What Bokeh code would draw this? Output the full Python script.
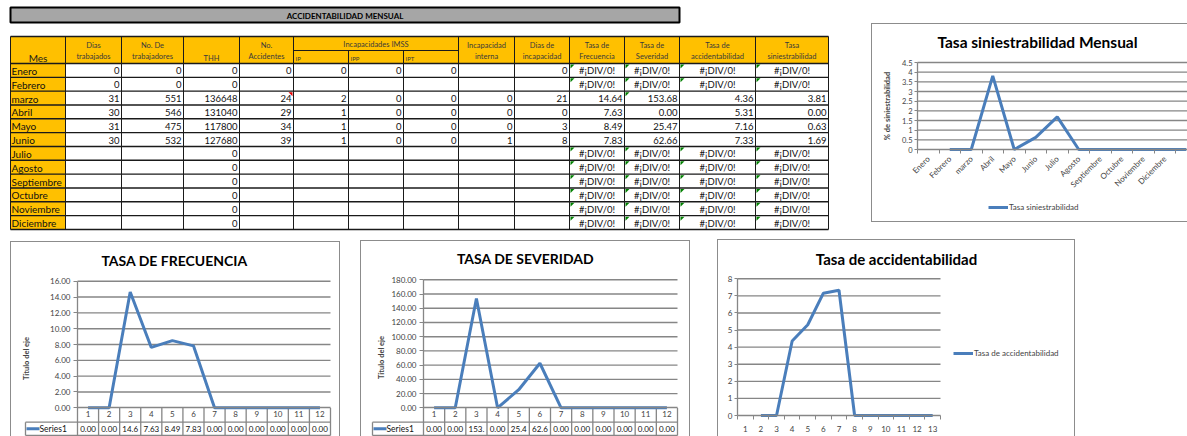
import math
from bokeh.plotting import figure
from bokeh.models import (Range1d, FixedTicker, PrintfTickFormatter, Legend, LegendItem,
                          InlineStyleSheet, LinearAxis)
from bokeh.layouts import row, column
from bokeh.core.properties import value
from bokeh.embed import file_html
from bokeh.resources import INLINE

FONT = "Lato"
BLUE = "#4a7ebb"
GRID = "#868686"
BORDER = "#8c8c8c"
HEAD = "#ffc000"

# ---------------- data (table) ----------------
months = ["Enero", "Febrero", "marzo", "Abril", "Mayo", "Junio", "Julio", "Agosto",
          "Septiembre", "Octubre", "Noviembre", "Diciembre"]
E = [None] * 6
dias_trabajados = [0, 0, 31, 30, 31, 30] + E
no_trabajadores = [0, 0, 551, 546, 475, 532] + E
thh = [0, 0, 136648, 131040, 117800, 127680, 0, 0, 0, 0, 0, 0]
no_accidentes = [0, None, 24, 29, 34, 39] + E
ip = [0, None, 2, 1, 1, 1] + E
ipp = [0, None, 0, 0, 0, 0] + E
ipt = [0, None, 0, 0, 0, 0] + E
incap_interna = [None, None, 0, 0, 0, 1] + E
dias_incap = [0, None, 21, 0, 3, 8] + E
tasa_frecuencia = [None, None, 14.64, 7.63, 8.49, 7.83] + E
tasa_severidad = [None, None, 153.68, 0.00, 25.47, 62.66] + E
tasa_accidentabilidad = [None, None, 4.36, 5.31, 7.16, 7.33] + E
tasa_siniestrabilidad = [None, None, 3.81, 0.00, 0.63, 1.69] + E

header_top = ["Mes", "Dias", "No. De", "THH", "No.", "IP", "IPP", "IPT", "Incapacidad",
              "Dias de", "Tasa de", "Tasa de", "Tasa de", "Tasa"]
header_bottom = ["", "trabajados", "trabajadores", "", "Accidentes", "", "", "", "interna",
                 "incapacidad", "Frecuencia", "Severidad", "accidentabilidad", "siniestrabilidad"]
group_header = "Incapacidades IMSS"
table_title = "ACCIDENTABILIDAD MENSUAL"
div_text = "#¡DIV/0!"

# ---------------- data (charts) ----------------
frec_x = list(range(1, 13))
frec_vals = [0, 0, 14.64, 7.63, 8.49, 7.83, 0, 0, 0, 0, 0, 0]
sev_x = list(range(1, 13))
sev_vals = [0, 0, 153.68, 0, 25.47, 62.66, 0, 0, 0, 0, 0, 0]
acc_x = list(range(2, 14))
acc_vals = [0, 0, 4.36, 5.31, 7.16, 7.33, 0, 0, 0, 0, 0, 0]
acc_ticks = list(range(1, 14))
sin_x = list(range(2, 14))
sin_vals = [0, 0, 3.81, 0, 0.63, 1.69, 0, 0, 0, 0, 0, 0]
sin_categories = months


def box_css(sides):
    parts = []
    if "l" in sides:
        parts.append(f"inset 1px 0 0 0 {BORDER}")
    if "t" in sides:
        parts.append(f"inset 0 1px 0 0 {BORDER}")
    if "r" in sides:
        parts.append(f"inset -1px 0 0 0 {BORDER}")
    if "b" in sides:
        parts.append(f"inset 0 -1px 0 0 {BORDER}")
    return InlineStyleSheet(css=":host { box-shadow: " + ", ".join(parts) + "; }")


def make_fig(W, H, pl, pr, pt, pb, x_lo, x_hi, y_lo, y_hi, margin, sides):
    """Figure whose frame is the whole canvas; the plot area [x_lo,x_hi]x[y_lo,y_hi]
    is mapped onto pixels pl..pr (x) and pt..pb (y)."""
    ux = (x_hi - x_lo) / (pr - pl)
    uy = (y_hi - y_lo) / (pb - pt)
    xr = Range1d(x_lo - pl * ux, x_hi + (W - pr) * ux)
    yr = Range1d(y_lo - (H - pb) * uy, y_hi + pt * uy)
    p = figure(width=W, height=H, x_range=xr, y_range=yr, x_axis_type=None, y_axis_type=None,
               toolbar_location=None, output_backend="svg", min_border=0,
               border_fill_color=None, background_fill_color=None, outline_line_color=None,
               margin=margin)
    p.stylesheets = [box_css(sides)]
    px2x = lambda px: x_lo + (px - pl) * ux
    px2y = lambda py: y_hi - (py - pt) * uy
    return p, px2x, px2y, ux, uy


def add_title(p, px2x, px2y, text, cx, cy, size="14px"):
    p.text(x=[px2x(cx)], y=[px2y(cy)], text=[text], text_align="center", text_baseline="middle",
           text_font=value(FONT), text_font_style="bold", text_font_size=size, text_color="#000")


def style_axis(ax, size="7.5px"):
    ax.axis_line_color = GRID
    ax.axis_line_width = 1.3
    ax.major_tick_line_color = GRID
    ax.minor_tick_line_color = GRID
    ax.major_label_text_font = FONT
    ax.major_label_text_font_size = size
    ax.major_tick_in = 0
    ax.minor_tick_in = 0


# ================= table figure =================
COL_X = [10, 65, 121, 183, 239, 293, 348, 403, 458, 514, 569, 624, 679, 755, 828]
H0, H1, H2 = 36, 50, 63
ROW_Y0, ROW_H = 63, 13.83
TW, TH = 866, 236

tf = figure(width=TW, height=TH, x_range=Range1d(0, TW), y_range=Range1d(TH, 0),
            x_axis_type=None, y_axis_type=None, toolbar_location=None, output_backend="svg",
            min_border=0, outline_line_color=None, border_fill_color=None,
            background_fill_color=None)

tf.quad(left=[COL_X[0]], right=[679], top=[7], bottom=[22], fill_color="#a6a6a6",
        line_color="black", line_width=2)
tf.text(x=[(COL_X[0] + 679) / 2], y=[15], text=[table_title], text_align="center",
        text_baseline="middle", text_font=value(FONT), text_font_style="bold",
        text_font_size="8px", text_color="black")

row_bottom = ROW_Y0 + 12 * ROW_H
tf.quad(left=[COL_X[0]], right=[COL_X[-1]], top=[H0], bottom=[H2], fill_color=HEAD, line_color=None)
tf.quad(left=[COL_X[0]], right=[COL_X[1]], top=[H2], bottom=[row_bottom], fill_color=HEAD,
        line_color=None)

hy = [H0, H2] + [ROW_Y0 + (i + 1) * ROW_H for i in range(12)]
tf.segment(x0=[COL_X[0]] * len(hy), x1=[COL_X[-1]] * len(hy), y0=hy, y1=hy,
           line_color="#1a1a1a", line_width=1.4)
tf.segment(x0=[COL_X[5]], x1=[COL_X[8]], y0=[H1], y1=[H1], line_color="#1a1a1a", line_width=1)
vtop = [H1 if c in (COL_X[6], COL_X[7]) else H0 for c in COL_X]
tf.segment(x0=COL_X, x1=COL_X, y0=vtop, y1=[row_bottom] * len(COL_X),
           line_color="#1a1a1a", line_width=1)

hx, ht1, ht2 = [], [], []
for c in range(14):
    if header_bottom[c]:
        hx.append((COL_X[c] + COL_X[c + 1]) / 2); ht1.append(header_top[c]); ht2.append(header_bottom[c])
tf.text(x=hx, y=[44.5] * len(hx), text=ht1, text_align="center", text_baseline="middle",
        text_font=value(FONT), text_font_size="7.5px", text_color="#3a3a3a")
tf.text(x=hx, y=[56] * len(hx), text=ht2, text_align="center", text_baseline="middle",
        text_font=value(FONT), text_font_size="7.5px", text_color="#3a3a3a")
tf.text(x=[(COL_X[3] + COL_X[4]) / 2], y=[57.5], text=[header_top[3]], text_align="center",
        text_baseline="middle", text_font=value(FONT), text_font_size="7.5px", text_color="#3a3a3a")
tf.text(x=[(COL_X[0] + COL_X[1]) / 2], y=[57], text=[header_top[0]], text_align="center",
        text_baseline="middle", text_font=value(FONT), text_font_size="10px", text_color="#1a1a1a")
tf.text(x=[(COL_X[5] + COL_X[8]) / 2], y=[44], text=[group_header], text_align="center",
        text_baseline="middle", text_font=value(FONT), text_font_size="7.5px", text_color="#3a3a3a")
tf.text(x=[COL_X[c] + 2 for c in (5, 6, 7)], y=[57.5] * 3, text=[header_top[c] for c in (5, 6, 7)],
        text_align="left", text_baseline="middle", text_font=value(FONT), text_font_size="6px",
        text_color="#3a3a3a")

ycs = [ROW_Y0 + (i + 0.5) * ROW_H + 0.5 for i in range(12)]
tf.text(x=[COL_X[0] + 1] * 12, y=ycs, text=months, text_align="left", text_baseline="middle",
        text_font=value(FONT), text_font_size="10px", text_color="#111")

num_cols = [dias_trabajados, no_trabajadores, thh, no_accidentes, ip, ipp, ipt, incap_interna, dias_incap]
rate_cols = [tasa_frecuencia, tasa_severidad, tasa_accidentabilidad, tasa_siniestrabilidad]
rx, ry, rt = [], [], []
dx, dy, dt = [], [], []
gxs, gys = [], []
for i in range(12):
    top = ROW_Y0 + i * ROW_H
    for j, col in enumerate(num_cols):
        v = col[i]
        if v is None:
            continue
        rx.append(COL_X[j + 2] - 2); ry.append(ycs[i]); rt.append(str(v))
    for k, col in enumerate(rate_cols):
        v = col[i]
        left, right = COL_X[10 + k], COL_X[11 + k]
        if v is None:
            dx.append((left + right) / 2); dy.append(ycs[i]); dt.append(div_text)
            gxs.append([left + 1, left + 5, left + 1]); gys.append([top + 1, top + 1, top + 5])
        else:
            rx.append(right - 2); ry.append(ycs[i]); rt.append(f"{v:.2f}")
mtop = ROW_Y0 + 2 * ROW_H
gxs.append([COL_X[11] + 1, COL_X[11] + 5, COL_X[11] + 1])
gys.append([mtop + 1, mtop + 1, mtop + 5])
tf.text(x=rx, y=ry, text=rt, text_align="right", text_baseline="middle",
        text_font=value(FONT), text_font_size="9.5px", text_color="#111")
tf.text(x=dx, y=dy, text=dt, text_align="center", text_baseline="middle",
        text_font=value(FONT), text_font_size="9.5px", text_color="#111")
tf.patches(xs=gxs, ys=gys, fill_color="#008000", line_color=None)
tf.patches(xs=[[COL_X[5] - 5, COL_X[5] - 1, COL_X[5] - 1]], ys=[[mtop + 1, mtop + 1, mtop + 5]],
           fill_color="#e00000", line_color=None)


# ================= charts with data table =================
def table_chart(title, xs, vals, y_max, y_step, W, H, pl, pr, pt, pb, ser_left, title_cx,
                title_cy, margin, ylabel_standoff):
    p, px2x, px2y, ux, uy = make_fig(W, H, pl, pr, pt, pb, 0.5, 12.5, 0, y_max, margin, "ltr")
    r1 = 14.4 * uy
    r2 = 13.3 * uy
    ser_u = px2x(ser_left)
    yticks = [y_step * k for k in range(int(round(y_max / y_step)) + 1)]
    g = yticks[1:]
    p.segment(x0=[0.5] * len(g), x1=[12.5] * len(g), y0=g, y1=g, line_color=GRID, line_width=1.4)
    ya = LinearAxis(fixed_location=0.5, ticker=FixedTicker(ticks=yticks),
                    formatter=PrintfTickFormatter(format="%.2f"), bounds=(-(r1 + r2), y_max),
                    major_tick_out=4, minor_tick_out=0, major_label_standoff=3,
                    axis_label="Título del eje", axis_label_text_font=FONT,
                    axis_label_text_font_style="bold", axis_label_text_font_size="7.5px",
                    axis_label_standoff=ylabel_standoff)
    style_axis(ya, "8px")
    p.add_layout(ya, "left")
    xa = LinearAxis(fixed_location=0, ticker=FixedTicker(ticks=xs), bounds=(0.5, 12.5),
                    major_tick_out=0, minor_tick_out=0, major_label_standoff=3)
    style_axis(xa, "8px")
    p.add_layout(xa, "below")
    yb = -(r1 + r2)
    p.segment(x0=[ser_u, ser_u], x1=[12.5, 12.5], y0=[-r1, yb], y1=[-r1, yb],
              line_color=GRID, line_width=1.3)
    vx = [k + 0.5 for k in range(1, 13)]
    p.segment(x0=vx, x1=vx, y0=[0] * 12, y1=[yb] * 12, line_color=GRID, line_width=1.3)
    p.segment(x0=[ser_u], x1=[ser_u], y0=[-r1], y1=[yb], line_color=GRID, line_width=1.3)
    ym = -(r1 + r2 / 2)
    p.segment(x0=[ser_u + 1 * ux], x1=[ser_u + 14 * ux], y0=[ym], y1=[ym],
              line_color=BLUE, line_width=3)
    p.text(x=[ser_u + 14 * ux], y=[ym], text=["Series1"], text_align="left",
           text_baseline="middle", text_font=value(FONT), text_font_size="8.5px", text_color="#111")
    p.text(x=xs, y=[ym] * len(xs), text=[f"{v:.2f}"[:4] for v in vals], text_align="center",
           text_baseline="middle", text_font=value(FONT), text_font_size="8px", text_color="#111")
    p.line(x=xs, y=vals, line_color=BLUE, line_width=3)
    add_title(p, px2x, px2y, title, title_cx, title_cy, "14px")
    return p


f1 = table_chart("TASA DE FRECUENCIA", frec_x, frec_vals, 16, 2, 330, 195, 67, 320, 39.7, 166.3,
                 15, 164, 19, (5, 0, 0, 10), 16)
f2 = table_chart("TASA DE SEVERIDAD", sev_x, sev_vals, 180, 20, 330, 196, 63, 317, 39.3, 167.3,
                 12, 165, 18, (4, 0, 0, 20), 2)

# ================= Tasa de accidentabilidad =================
acc, ax2x, ax2y, aux, auy = make_fig(358, 197, 20, 223, 39.3, 176, 0.5, 13.5, 0, 8,
                                     (3, 0, 0, 27), "ltr")
acc_yt = list(range(0, 9))
acc.segment(x0=[0.5] * 8, x1=[13.5] * 8, y0=acc_yt[1:], y1=acc_yt[1:], line_color=GRID,
            line_width=1.4)
a_ya = LinearAxis(fixed_location=0.5, ticker=FixedTicker(ticks=acc_yt), bounds=(0, 8),
                  major_tick_out=3, minor_tick_out=0, major_label_standoff=2)
style_axis(a_ya, "8px")
acc.add_layout(a_ya, "left")
a_xa = LinearAxis(fixed_location=0, ticker=FixedTicker(ticks=acc_ticks,
                  minor_ticks=[k + 0.5 for k in range(14)]), bounds=(0.5, 13.5),
                  major_tick_out=0, minor_tick_out=4, major_label_standoff=6)
style_axis(a_xa, "8px")
acc.add_layout(a_xa, "below")
r_acc = acc.line(x=acc_x, y=acc_vals, line_color=BLUE, line_width=3)
add_title(acc, ax2x, ax2y, "Tasa de accidentabilidad", 179, 19, "15px")
leg_acc = Legend(items=[LegendItem(label=value("Tasa de accidentabilidad"), renderers=[r_acc])],
                 location=(236, 78), padding=0, margin=0, spacing=0, glyph_width=20,
                 glyph_height=10, label_height=10, label_standoff=1, border_line_color=None,
                 background_fill_alpha=0, label_text_font=FONT, label_text_font_size="8px")
acc.add_layout(leg_acc, "center")

# ================= Tasa siniestrabilidad Mensual =================
sin, sx2x, sx2y, sux, suy = make_fig(316, 199, 46, 46 + 13 * 21.5, 39, 126, 0.5, 13.5, 0, 4.5,
                                     (23, 0, 0, 5), "ltb")
sin_yt = [0.5 * k for k in range(10)]
sin.segment(x0=[0.5] * 9, x1=[13.5] * 9, y0=sin_yt[1:], y1=sin_yt[1:], line_color=GRID,
            line_width=1.4)
s_ya = LinearAxis(fixed_location=0.5, ticker=FixedTicker(ticks=sin_yt), bounds=(0, 4.5),
                  major_tick_out=3, minor_tick_out=0, major_label_standoff=2,
                  major_label_overrides={t: ("%g" % t) for t in sin_yt},
                  axis_label="% de siniestrabilidad", axis_label_text_font=FONT,
                  axis_label_text_font_style="bold", axis_label_text_font_size="7.5px",
                  axis_label_standoff=7)
style_axis(s_ya, "7.5px")
sin.add_layout(s_ya, "left")
s_xa = LinearAxis(fixed_location=0, ticker=FixedTicker(ticks=list(range(1, 13)),
                  minor_ticks=[k + 0.5 for k in range(14)]), bounds=(0.5, 13.5),
                  major_tick_out=0, minor_tick_out=4, major_label_standoff=4,
                  major_label_overrides={i + 1: m for i, m in enumerate(sin_categories)},
                  major_label_orientation=math.pi / 4)
style_axis(s_xa, "8px")
sin.add_layout(s_xa, "below")
r_sin = sin.line(x=sin_x, y=sin_vals, line_color=BLUE, line_width=3)
add_title(sin, sx2x, sx2y, "Tasa siniestrabilidad Mensual", 166, 18, "15.5px")
leg_sin = Legend(items=[LegendItem(label=value("Tasa siniestrabilidad"), renderers=[r_sin])],
                 location=(117, 10), padding=0, margin=0, spacing=0, glyph_width=20,
                 glyph_height=10, label_height=10, label_standoff=1, border_line_color=None,
                 background_fill_alpha=0, label_text_font=FONT, label_text_font_size="8px")
sin.add_layout(leg_sin, "center")

layout = column(row(tf, sin), row(f1, f2, acc))
open("out.html", "w").write(file_html(layout, INLINE))
